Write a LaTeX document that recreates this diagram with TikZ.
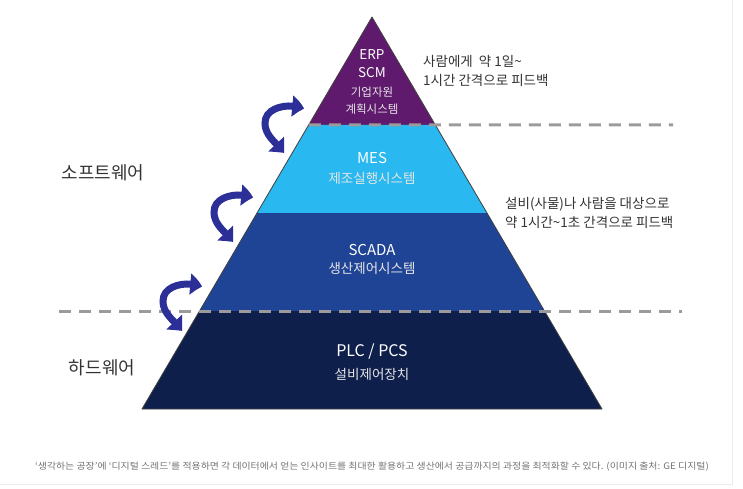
\documentclass[tikz,border=0pt]{standalone}
\usepackage{fontspec}
\setmainfont{Noto Sans CJK KR}
\usetikzlibrary{positioning, arrows.meta, bending, calc}

\definecolor{erpcol}{HTML}{5F1A6D}
\definecolor{mescol}{HTML}{29B8F0}
\definecolor{scadacol}{HTML}{1F4496}
\definecolor{plccol}{HTML}{0F1F4C}
\definecolor{swapcol}{HTML}{2C2F98}
\definecolor{dashcol}{HTML}{9B9B9B}
\definecolor{txtcol}{HTML}{333333}

\begin{document}
\begin{tikzpicture}[
        x=1pt, y=-1pt,
        title/.style={text=white, inner sep=0pt},
        sub/.style={text=white!90!black, inner sep=0pt},
        note/.style={text=txtcol, font=\fontsize{13.5}{19}\selectfont, align=left, anchor=west, inner sep=0pt},
        side/.style={text=txtcol, font=\fontsize{18}{18}\selectfont, inner sep=0pt},
        foot/.style={text=black!55, font=\fontsize{9}{9}\selectfont, inner sep=0pt},
        level/.style={dashcol, line width=3pt, dash pattern=on 12pt off 8pt},
        edge/.style={black!75, line width=0.8pt, line join=round},
        swaparrow/.style={swapcol, line width=7pt,
            {Triangle[width=21pt,length=12pt,bend]}-{Triangle[width=21pt,length=12pt,bend]}}
    ]
        \useasboundingbox (0,0) rectangle (743,489);
        \draw[black!8, line width=1pt] (732,0) -- (732,484) -- (0,484);

        % pyramid corners and level points
        \coordinate (apex) at (372,17);
        \coordinate (bl) at (142,409);
        \coordinate (br) at (602,409);
        \coordinate (l1) at ($(apex)!0.275!(bl)$);
        \coordinate (r1) at ($(apex)!0.275!(br)$);
        \coordinate (l2) at ($(apex)!0.5!(bl)$);
        \coordinate (r2) at ($(apex)!0.5!(br)$);
        \coordinate (l3) at ($(apex)!0.75!(bl)$);
        \coordinate (r3) at ($(apex)!0.75!(br)$);

        % layers
        \fill[erpcol] (apex) -- (l1) -- (r1) -- cycle;
        \fill[mescol] (l1) -- (l2) -- (r2) -- (r1) -- cycle;
        \fill[scadacol] (l2) -- (l3) -- (r3) -- (r2) -- cycle;
        \fill[plccol] (l3) -- (bl) -- (br) -- (r3) -- cycle;
        \draw[edge] (apex) -- (bl) -- (br) -- cycle;

        % software / hardware borders
        \coordinate (d1e) at (673,124.8);
        \coordinate (d2s) at (59,311);
        \coordinate (d2e) at (682,311);
        \draw[level] (l1) -- (d1e);
        \draw[level] (d2s) -- (d2e);

        % layer texts
        \node[title, font=\fontsize{13.5}{13.5}\selectfont] (erp) at (372,55) {ERP};
        \node[title, font=\fontsize{13.5}{13.5}\selectfont] (scm) at (372,72.5) {SCM};
        \node[sub, font=\fontsize{11.5}{11.5}\selectfont] (erpsub1) at (372,92.5) {기업자원};
        \node[sub, font=\fontsize{11.5}{11.5}\selectfont] (erpsub2) at (372,109.5) {계획시스템};
        \node[title, font=\fontsize{15}{15}\selectfont] (mes) at (372,158) {MES};
        \node[sub, font=\fontsize{13.5}{13.5}\selectfont] (messub) at (372,178) {제조실행시스템};
        \node[title, font=\fontsize{15}{15}\selectfont] (scada) at (372,250) {SCADA};
        \node[sub, font=\fontsize{13.5}{13.5}\selectfont] (scadasub) at (372,268.5) {생산제어시스템};
        \node[title, font=\fontsize{16}{16}\selectfont] (plc) at (372,352) {PLC / PCS};
        \node[sub, font=\fontsize{13.5}{13.5}\selectfont] (plcsub) at (372,374) {설비제어장치};

        % side notes
        \node[note] (note1) at (423,71) {사람에게\ \ 약 1일\textasciitilde\\1시간 간격으로 피드백};
        \node[note] (note2) at (505,212.5) {설비(사물)나 사람을 대상으로\\약 1시간\textasciitilde1초 간격으로 피드백};
        \node[side] (soft) at (103,173) {소프트웨어};
        \node[side] (hard) at (102,368) {하드웨어};

        % exchange arrows between layers
        \foreach \cx/\cy [count=\i] in {282/123, 231/212, 180/301} {
            \coordinate (sw\i) at (\cx,\cy);
            \draw[swaparrow] ($(sw\i)+(22,-14)$) .. controls ($(sw\i)+(12,-20)$) and ($(sw\i)+(-17,-18)$) .. ($(sw\i)+(-17,0)$)
                .. controls ($(sw\i)+(-17,13)$) and ($(sw\i)+(-6,19)$) .. ($(sw\i)+(2,30)$);
        }

        \node[foot] (src) at (372,467) {\scalebox{1.1}[1]{‘생각하는 공장’에 ‘디지털 스레드’를 적용하면 각 데이터에서 얻는 인사이트를 최대한 활용하고 생산에서 공급까지의 과정을 최적화할 수 있다. (이미지 출처: GE 디지털)}};
    \end{tikzpicture}
\end{document}
